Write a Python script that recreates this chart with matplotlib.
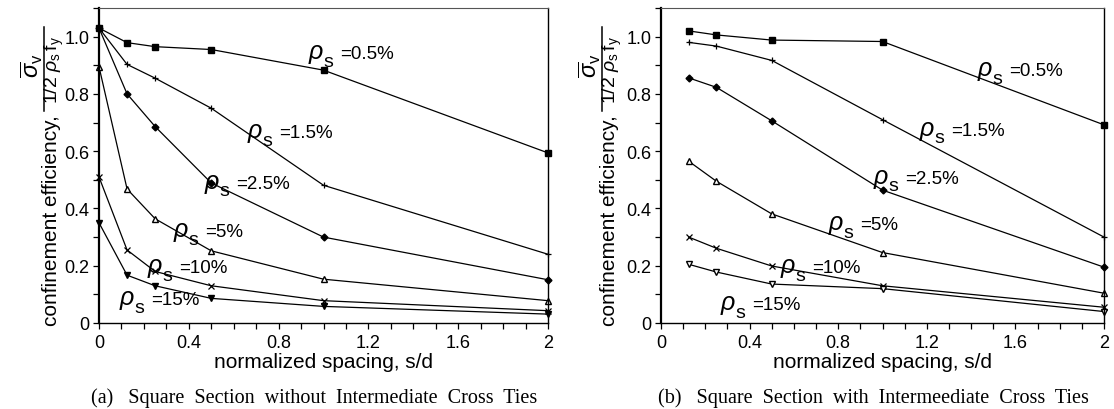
import matplotlib
matplotlib.use("Agg")
import matplotlib.pyplot as plt
from matplotlib.lines import Line2D
from matplotlib.ticker import MultipleLocator, FixedLocator, FixedFormatter

plt.rcParams["font.family"] = ["Liberation Sans", "DejaVu Sans"]
plt.rcParams["mathtext.fontset"] = "custom"
plt.rcParams["mathtext.rm"] = "Liberation Sans"
plt.rcParams["mathtext.it"] = "Liberation Sans:italic"
plt.rcParams["mathtext.sf"] = "Liberation Sans"

# steel ratio of each curve
ratio_labels = ["=0.5%", "=1.5%", "=2.5%", "=5%", "=10%", "=15%"]

# (a) square section without intermediate cross ties
spacing_a = [0.0, 0.125, 0.25, 0.5, 1.0, 2.0]
eff_a_05 = [1.03, 0.979, 0.965, 0.955, 0.883, 0.594]
eff_a_15 = [1.03, 0.903, 0.855, 0.750, 0.481, 0.240]
eff_a_25 = [1.03, 0.800, 0.686, 0.489, 0.300, 0.151]
eff_a_50 = [0.895, 0.468, 0.364, 0.252, 0.153, 0.078]
eff_a_100 = [0.51, 0.255, 0.180, 0.130, 0.078, 0.043]
eff_a_150 = [0.35, 0.167, 0.130, 0.086, 0.058, 0.031]

# (b) square section with intermediate cross ties
spacing_b = [0.125, 0.25, 0.5, 1.0, 2.0]
eff_b_05 = [1.020, 1.006, 0.988, 0.983, 0.692]
eff_b_15 = [0.980, 0.967, 0.917, 0.710, 0.300]
eff_b_25 = [0.856, 0.823, 0.706, 0.464, 0.195]
eff_b_50 = [0.565, 0.495, 0.381, 0.246, 0.104]
eff_b_100 = [0.300, 0.261, 0.199, 0.130, 0.055]
eff_b_150 = [0.205, 0.178, 0.136, 0.120, 0.040]

x_ticks = [0, 0.4, 0.8, 1.2, 1.6, 2.0]
x_ticklabels = ["0", "0.4", "0.8", "1.2", "1.6", "2"]
y_ticks = [0, 0.2, 0.4, 0.6, 0.8, 1.0]
y_ticklabels = ["0", "0.2", "0.4", "0.6", "0.8", "1.0"]

captions = ["(a)   Square  Section  without  Intermediate  Cross  Ties",
            "(b)   Square  Section  with  Intermeediate  Cross  Ties"]

marker_styles = [
    dict(marker="s", ms=5, mfc="black"),
    dict(marker="+", ms=5, mew=0.9),
    dict(marker="D", ms=3.5, mfc="black"),
    dict(marker="^", ms=5, mfc="white"),
    dict(marker="x", ms=4.5, mew=0.9),
    dict(marker="v", ms=5, mfc="black"),
]

# rho label anchors (left of the rho glyph, text baseline), in data units
label_pos_a = [(0.93, 0.925), (0.66, 0.65), (0.468, 0.473),
               (0.33, 0.303), (0.214, 0.177), (0.089, 0.066)]
label_pos_b = [(1.427, 0.866), (1.165, 0.657), (0.957, 0.49),
               (0.754, 0.327), (0.537, 0.177), (0.266, 0.049)]

W, H = 1114, 410
fig = plt.figure(figsize=(W / 100, H / 100), dpi=100)
ax_a = fig.add_axes([99 / W, 86 / H, 449 / W, 315 / H])
ax_b = fig.add_axes([661 / W, 86 / H, 443 / W, 315 / H])


def rho_label(ax, x, y, text):
    ax.annotate(r"$\rho$", (x, y), fontsize=18, va="baseline", ha="left",
                family="DejaVu Serif", style="italic")
    ax.annotate("s", (x, y), xytext=(11.0, -5.5), textcoords="offset points",
                fontsize=14, va="baseline", ha="left")
    ax.annotate(text, (x, y), xytext=(23.0, 0), textcoords="offset points",
                fontsize=13.5, va="baseline", ha="left")


def y_fraction(bar_px, top_px, bottom_px):
    """Rotated fraction  sigma_v / (1/2 rho_s f_y)  placed in figure pixels."""
    yc = (top_px + bottom_px) / 2
    fig.add_artist(Line2D([bar_px / W, bar_px / W],
                          [1 - top_px / H, 1 - bottom_px / H],
                          color="black", lw=1.1))
    fig.text((bar_px - 12) / W, 1 - (yc - 4) / H,
             r"$\overline{\sigma}_{\mathregular{v}}$", rotation=90,
             ha="center", va="center", fontsize=17)
    fig.text((bar_px + 10) / W, 1 - yc / H,
             r"$\mathregular{1/2}\ \rho_{\mathregular{s}}\,\mathregular{f}_{\mathregular{y}}$",
             rotation=90, ha="center", va="center", fontsize=14)


def style_axes(ax, caption, ylab_x):
    ax.set_xlim(0, 2)
    ax.set_ylim(0, 1.1)
    ax.xaxis.set_major_locator(FixedLocator(x_ticks))
    ax.xaxis.set_major_formatter(FixedFormatter(x_ticklabels))
    ax.xaxis.set_minor_locator(MultipleLocator(0.1))
    ax.yaxis.set_major_locator(FixedLocator(y_ticks))
    ax.yaxis.set_major_formatter(FixedFormatter(y_ticklabels))
    ax.yaxis.set_minor_locator(MultipleLocator(0.1))
    ax.tick_params(which="both", direction="out", length=4, width=0.9,
                   labelsize=13, color="black")
    ax.tick_params(axis="x", pad=4)
    ax.tick_params(axis="y", pad=3)
    for side in ["left", "bottom", "right"]:
        ax.spines[side].set_linewidth(1.0)
    ax.spines["left"].set_linewidth(1.6)
    ax.spines["top"].set_color("#555555")
    ax.set_xlabel("normalized spacing, s/d", fontsize=15, labelpad=1)
    ax.text(ylab_x, 0.327, "confinement efficiency,", rotation=90,
            transform=ax.transAxes, ha="center", va="center", fontsize=15)
    ax.text(0.48, -0.235, caption, transform=ax.transAxes, ha="center",
            va="center", fontsize=14.5, family="Liberation Serif")


series_a = [eff_a_05, eff_a_15, eff_a_25, eff_a_50, eff_a_100, eff_a_150]
series_b = [eff_b_05, eff_b_15, eff_b_25, eff_b_50, eff_b_100, eff_b_150]

for ys, mk in zip(series_a, marker_styles):
    ax_a.plot(spacing_a, ys, color="black", lw=0.9, mec="black", clip_on=False, **mk)
for ys, mk in zip(series_b, marker_styles):
    mk = dict(mk)
    if mk["marker"] == "v":
        mk["mfc"] = "white"
    ax_b.plot(spacing_b, ys, color="black", lw=0.9, mec="black", clip_on=False, **mk)

for (x, y), t in zip(label_pos_a, ratio_labels):
    rho_label(ax_a, x, y, t)
for (x, y), t in zip(label_pos_b, ratio_labels):
    rho_label(ax_b, x, y, t)

style_axes(ax_a, captions[0], -0.105)
style_axes(ax_b, captions[1], -0.117)
y_fraction(44, 28, 112)
y_fraction(602, 28, 112)

fig.savefig("out.png", dpi=100)
